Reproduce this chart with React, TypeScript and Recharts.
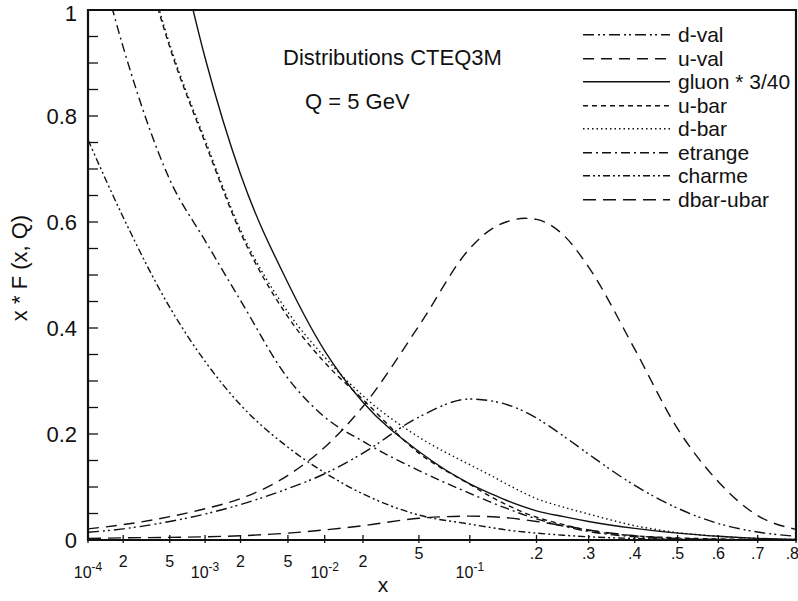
import React from "react";
import { LineChart, Line, XAxis, YAxis, Legend, ReferenceArea } from "recharts";

const FONT = '"Liberation Sans", Arial, Helvetica, sans-serif';

// momentum fraction x where the curves were read
const xGrid = [0.0001, 0.0002, 0.0005, 0.001, 0.002, 0.005, 0.01, 0.02, 0.05, 0.1, 0.13, 0.15, 0.18, 0.2, 0.25, 0.3, 0.4, 0.5, 0.6, 0.7, 0.8];

// x * F(x, Q) at Q = 5 GeV, CTEQ3M (values above 1 run off the top of the frame)
const dVal = [0.0145, 0.021, 0.035, 0.049, 0.067, 0.097, 0.125, 0.164, 0.232, 0.266, 0.262, 0.256, 0.242, 0.23, 0.196, 0.162, 0.103, 0.06, 0.031, 0.015, 0.007];
const uVal = [0.021, 0.029, 0.044, 0.059, 0.078, 0.122, 0.175, 0.252, 0.404, 0.55, 0.588, 0.6, 0.607, 0.605, 0.575, 0.515, 0.36, 0.21, 0.11, 0.046, 0.02];
const gluon = [null, null, 1.19, 0.91, 0.69, 0.485, 0.357, 0.26, 0.167, 0.106, 0.086, 0.075, 0.062, 0.055, 0.044, 0.035, 0.022, 0.013, 0.007, 0.003, 0.001];
const uBar = [null, 1.25, 0.93, 0.75, 0.58, 0.421, 0.335, 0.265, 0.164, 0.105, 0.08, 0.067, 0.051, 0.043, 0.029, 0.018, 0.008, 0.004, 0.002, 0.001, 0];
const dBar = [null, 1.26, 0.935, 0.755, 0.585, 0.43, 0.345, 0.272, 0.194, 0.142, 0.12, 0.106, 0.088, 0.078, 0.062, 0.049, 0.027, 0.014, 0.007, 0.003, 0.001];
const strange = [1.18, 0.93, 0.68, 0.565, 0.452, 0.305, 0.232, 0.186, 0.131, 0.088, 0.07, 0.06, 0.047, 0.04, 0.026, 0.016, 0.006, 0.002, 0.001, 0, 0];
const charm = [0.755, 0.609, 0.439, 0.337, 0.255, 0.175, 0.127, 0.087, 0.047, 0.03, 0.023, 0.019, 0.015, 0.013, 0.009, 0.006, 0.003, 0.001, 0, 0, 0];
const dbarUbar = [0.003, 0.004, 0.005, 0.006, 0.008, 0.013, 0.019, 0.027, 0.041, 0.045, 0.044, 0.042, 0.038, 0.035, 0.027, 0.019, 0.008, 0.003, 0.001, 0, 0];

const xTicks = [0.0001, 0.0002, 0.0005, 0.001, 0.002, 0.005, 0.01, 0.02, 0.05, 0.1, 0.2, 0.3, 0.4, 0.5, 0.6, 0.7, 0.8];
const xTickLabels = ["10^-4", "2", "5", "10^-3", "2", "5", "10^-2", "2", "5", "10^-1", ".2", ".3", ".4", ".5", ".6", ".7", ".8"];
const yTicks = [0, 0.05, 0.1, 0.15, 0.2, 0.25, 0.3, 0.35, 0.4, 0.45, 0.5, 0.55, 0.6, 0.65, 0.7, 0.75, 0.8, 0.85, 0.9, 0.95, 1];
const yTickLabels = ["0", "", "", "", "0.2", "", "", "", "0.4", "", "", "", "0.6", "", "", "", "0.8", "", "", "", "1"];

// the x axis is log at small x and stretches towards linear at large x
const toU = (x: number) => Math.log10(x) + 2.7 * x;
const uMin = toU(xTicks[0]);
const uMax = toU(xTicks[xTicks.length - 1]);
const xTicksU = xTicks.map(toU);

const series = [
  { key: "dVal", name: "d-val", values: dVal, dash: "11 4 2 3 2 4" },
  { key: "uVal", name: "u-val", values: uVal, dash: "11 7" },
  { key: "gluon", name: "gluon * 3/40", values: gluon, dash: undefined },
  { key: "uBar", name: "u-bar", values: uBar, dash: "5 4" },
  { key: "dBar", name: "d-bar", values: dBar, dash: "1.5 3" },
  { key: "strange", name: "etrange", values: strange, dash: "9 4 2 4" },
  { key: "charm", name: "charme", values: charm, dash: "7 3 2 3 2 3" },
  { key: "dbarUbar", name: "dbar-ubar", values: dbarUbar, dash: "13 7" },
];

const data = xGrid.map((x, i) => {
  const row: Record<string, number | null> = { u: toU(x) };
  series.forEach((s) => {
    row[s.key] = s.values[i];
  });
  return row;
});

function XTick(props: any) {
  const { x, y, payload } = props;
  const idx = xTicksU.findIndex((v) => Math.abs(v - payload.value) < 1e-9);
  if (idx < 0) return null;
  const label = xTickLabels[idx];
  const decade = label.startsWith("10^");
  const low = xTicks[idx] < 0.04;
  const last = idx === xTicks.length - 1;
  return (
    <g>
      <line x1={x} x2={x} y1={y - 5} y2={y + 3} stroke="#111" strokeWidth={1.3} />
      {decade ? (
        <text x={x} y={y + 38} textAnchor="middle" fontSize={16} fill="#111" fontFamily={FONT}>
          10
          <tspan dy={-7} fontSize={12}>
            {label.slice(3)}
          </tspan>
        </text>
      ) : (
        <text
          x={last ? x + 3 : x}
          y={y + (low ? 27 : 19)}
          textAnchor={last ? "end" : "middle"}
          fontSize={16}
          fill="#111"
          fontFamily={FONT}
        >
          {label}
        </text>
      )}
    </g>
  );
}

function YTick(props: any) {
  const { x, y, payload } = props;
  const idx = yTicks.findIndex((v) => Math.abs(v - payload.value) < 1e-9);
  const label = idx >= 0 ? yTickLabels[idx] : "";
  return (
    <g>
      <line x1={x} x2={x + 10} y1={y} y2={y} stroke="#111" strokeWidth={1.3} />
      {label && (
        <text x={x - 11} y={y} dy={idx === yTicks.length - 1 ? "0.5em" : "0.36em"} textAnchor="end" fontSize={22} fill="#111" fontFamily={FONT}>
          {label}
        </text>
      )}
    </g>
  );
}

function LegendBox() {
  return (
    <div style={{ fontFamily: FONT, fontSize: 21, color: "#111" }}>
      {series.map((s) => (
        <div key={s.key} style={{ display: "flex", alignItems: "center", height: 23.5 }}>
          <svg width={87} height={23.5} style={{ display: "block" }}>
            <line x1={0} x2={87} y1={11.75} y2={11.75} stroke="#111" strokeWidth={1.5} strokeDasharray={s.dash} />
          </svg>
          <span style={{ marginLeft: 8, lineHeight: "23.5px", whiteSpace: "nowrap" }}>{s.name}</span>
        </div>
      ))}
    </div>
  );
}

export default function App() {
  return (
    <div style={{ position: "relative", width: 798, height: 601, background: "#fff", fontFamily: FONT }}>
      <style>{"body{margin:0}"}</style>
      <LineChart width={798} height={601} data={data} margin={{ top: 10, right: 2, bottom: 0, left: 0 }}>
        <XAxis
          type="number"
          dataKey="u"
          domain={[uMin, uMax]}
          ticks={xTicksU}
          interval={0}
          tick={(p: any) => <XTick {...p} />}
          tickLine={false}
          tickSize={0}
          tickMargin={0}
          axisLine={false}
          height={61}
          allowDataOverflow
        />
        <YAxis
          type="number"
          domain={[0, 1]}
          ticks={yTicks}
          interval={0}
          tick={(p: any) => <YTick {...p} />}
          tickLine={false}
          tickSize={0}
          tickMargin={0}
          axisLine={false}
          width={88}
          allowDataOverflow
        />
        <ReferenceArea x1={uMin} x2={uMax} y1={0} y2={1} fill="none" stroke="#111" strokeWidth={2.2} ifOverflow="visible" />
        {series.map((s) => (
          <Line
            key={s.key}
            type="monotone"
            dataKey={s.key}
            name={s.name}
            stroke="#111"
            strokeWidth={1.4}
            strokeDasharray={s.dash}
            dot={false}
            activeDot={false}
            isAnimationActive={false}
          />
        ))}
        <Legend
          layout="vertical"
          align="center"
          verticalAlign="middle"
          content={() => <LegendBox />}
          wrapperStyle={{ top: 23, left: 583, width: 215 }}
        />
      </LineChart>
      <svg width={798} height={601} style={{ position: "absolute", left: 0, top: 0, pointerEvents: "none" }} fontFamily={FONT} fill="#111">
        <text x={283} y={65} fontSize={22}>Distributions CTEQ3M</text>
        <text x={305} y={109} fontSize={22}>Q = 5 GeV</text>
        <text x={27} y={268} fontSize={22} textAnchor="middle" transform="rotate(-90 27 268)">x * F (x, Q)</text>
        <text x={383} y={592} fontSize={21} textAnchor="middle">x</text>
      </svg>
    </div>
  );
}
